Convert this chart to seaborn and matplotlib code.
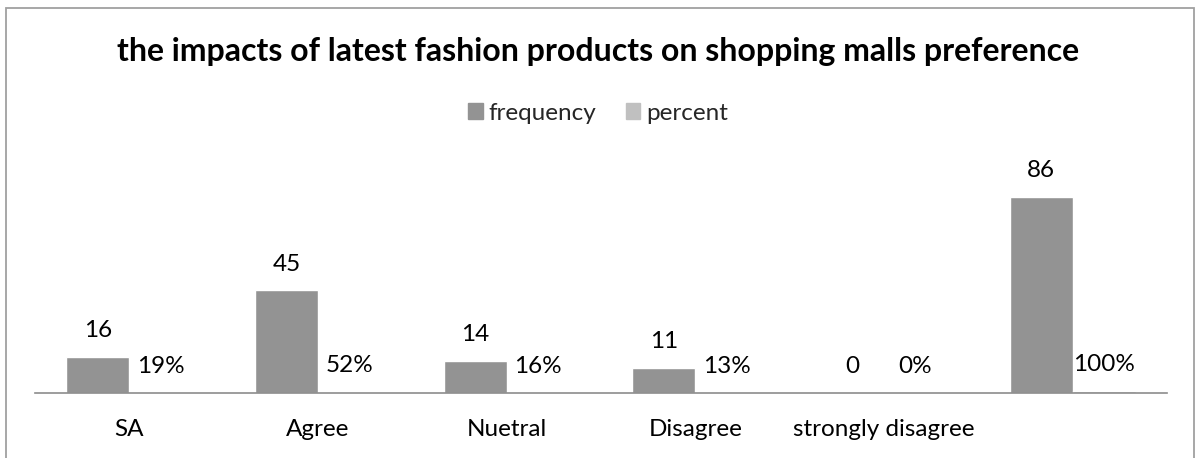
import matplotlib
matplotlib.use("Agg")
import matplotlib.pyplot as plt
from matplotlib.patches import Rectangle
import pandas as pd
import seaborn as sns

categories = ["SA", "Agree", "Nuetral", "Disagree", "strongly disagree", ""]
frequency = [16, 45, 14, 11, 0, 86]
percent = [19, 52, 16, 13, 0, 100]
series_names = ["frequency", "percent"]

freq_color = "#939393"
pct_color = "#c0c0c0"

sns.set_theme(style="white")
plt.rcParams["font.family"] = ["Lato", "DejaVu Sans"]

rows = []
for cat, f, p in zip(categories, frequency, percent):
    rows.append({"category": cat, "series": series_names[0], "value": f, "label": f"{f}"})
    rows.append({"category": cat, "series": series_names[1], "value": p / 100, "label": f"{p}%"})
df = pd.DataFrame(rows)

W, H = 1196, 458
fig = plt.figure(figsize=(W / 100, H / 100), dpi=100)
ax = fig.add_axes([35 / W, (H - 393) / H, (1167 - 35) / W, 100 * 2.279 / H])

sns.barplot(
    data=df, x="category", y="value", hue="series", order=categories,
    hue_order=series_names, palette=[freq_color, pct_color], width=0.668,
    saturation=1, ax=ax, legend=False,
)

ax.set_ylim(0, 100)
ax.set_xlim(-0.5, len(categories) - 0.5)
ax.set_xlabel("")
ax.set_ylabel("")
ax.set_yticks([])
for side in ["top", "right", "left"]:
    ax.spines[side].set_visible(False)
ax.spines["bottom"].set_color("#8c8c8c")
ax.spines["bottom"].set_linewidth(1.2)
ax.tick_params(axis="x", length=0, pad=19, labelsize=17.5, labelcolor="#000000")

# value labels above each bar
for container, name in zip(ax.containers, series_names):
    sub = df[df["series"] == name]
    for bar, lbl in zip(container, sub["label"]):
        x = bar.get_x() + bar.get_width() / 2
        y = bar.get_height()
        ax.annotate(lbl, (x, y), xytext=(0, 19), textcoords="offset points",
                    ha="center", va="center", fontsize=17.5, color="#000000")

fig.text(0.5, 1 - 52 / H, "the impacts of latest fashion products on shopping malls preference",
         ha="center", va="center", fontsize=23, fontweight="bold", color="#000000")

handles = [Rectangle((0, 0), 1, 1, color=freq_color), Rectangle((0, 0), 1, 1, color=pct_color)]
fig.legend(handles, series_names, loc="center", bbox_to_anchor=(0.5, 1 - 113 / H),
           ncol=2, frameon=False, fontsize=17.5, handlelength=0.6, handleheight=0.6,
           handletextpad=0.25, columnspacing=1.2)

# outer chart frame
fig.patches.append(Rectangle((6 / W, -0.05), 1188 / W, 1.05 - 8 / H, transform=fig.transFigure,
                             fill=False, edgecolor="#a0a0a0", linewidth=1.3))

fig.savefig("out.png", dpi=100)
